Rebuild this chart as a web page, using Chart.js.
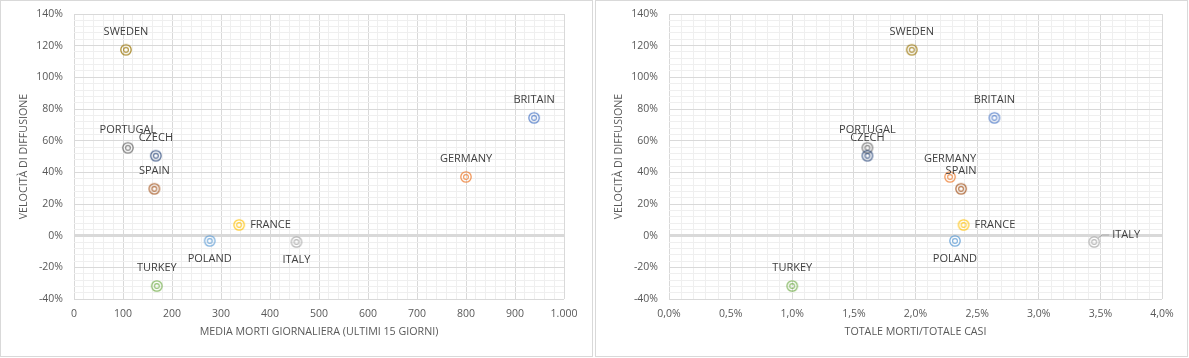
<!DOCTYPE html>
<html>
<head>
<meta charset="utf-8">
<script src="https://cdn.jsdelivr.net/npm/chart.js@4/dist/chart.umd.min.js"></script>
<style>
  body { margin: 0; background: #fff; }
  .box { position: absolute; top: 0; width: 591px; height: 355px; border: 1px solid #d9d9d9; background: #fff; }
</style>
</head>
<body>
<div class="box" style="left:0"><canvas id="chartDeaths"></canvas></div>
<div class="box" style="left:595px"><canvas id="chartRate"></canvas></div>
<script>
// data
const countries = ['BRITAIN', 'GERMANY', 'ITALY', 'FRANCE', 'POLAND', 'TURKEY', 'CZECH', 'SPAIN', 'PORTUGAL', 'SWEDEN'];
const diffusion = [74.4, 37.1, -4.0, 6.8, -3.3, -31.8, 50.5, 29.6, 55.5, 117.4];   // velocità di diffusione, %
const avgDeaths = [939, 800, 454, 337, 277, 169, 167, 164, 110, 106];             // media morti giornaliera
const deathRate = [2.64, 2.28, 3.45, 2.39, 2.32, 1.00, 1.61, 2.37, 1.61, 1.97];   // totale morti / totale casi, %
const colors = ['#4472C4', '#ED7D31', '#A5A5A5', '#FFC000', '#5B9BD5', '#70AD47', '#264478', '#9E480E', '#636363', '#997300'];

const yTitle = 'VELOCITÀ DI DIFFUSIONE';
const xTitleDeaths = 'MEDIA MORTI GIORNALIERA (ULTIMI 15 GIORNI)';
const xTitleRate = 'TOTALE MORTI/TOTALE CASI';

// where each label sits relative to its marker
const labelsDeaths = {
    FRANCE: { pos: 'right' }, POLAND: { pos: 'below' }, ITALY: { pos: 'below' }
};
const labelsRate = {
    FRANCE: { pos: 'right' }, POLAND: { pos: 'below' }, ITALY: { pos: 'right', dx: 18, dy: -7, leader: true }
};

const FONT = "'Open Sans', 'DejaVu Sans', sans-serif";

function bullseye(color) {
    const c = document.createElement('canvas');
    c.width = c.height = 14;
    const g = c.getContext('2d');
    g.strokeStyle = color;
    g.globalAlpha = 0.8;
    g.lineWidth = 1.3;
    g.beginPath(); g.arc(7, 7, 5.2, 0, Math.PI * 2); g.stroke();
    g.lineWidth = 1.1;
    g.beginPath(); g.arc(7, 7, 2.4, 0, Math.PI * 2); g.stroke();
    return c;
}

const pointLabels = {
    id: 'pointLabels',
    afterDatasetsDraw(chart, args, opts) {
        const ctx = chart.ctx;
        const place = opts.place || {};
        ctx.save();
        ctx.font = '11px ' + FONT;
        ctx.fillStyle = '#404040';
        chart.data.datasets.forEach((ds, i) => {
            const el = chart.getDatasetMeta(i).data[0];
            const p = place[ds.label] || { pos: 'above' };
            let x = el.x, y = el.y;
            ctx.textBaseline = 'middle';
            if (p.pos === 'right') {
                ctx.textAlign = 'left';
                x += p.dx || 11;
                y += p.dy || 0;
                if (p.leader) {
                    ctx.strokeStyle = '#a6a6a6';
                    ctx.lineWidth = 1;
                    ctx.beginPath();
                    ctx.moveTo(el.x + 4, el.y - 4);
                    ctx.lineTo(el.x + 8, y);
                    ctx.lineTo(x - 3, y);
                    ctx.stroke();
                }
            } else if (p.pos === 'below') {
                ctx.textAlign = 'center';
                y += 18;
            } else {
                ctx.textAlign = 'center';
                y -= 18;
            }
            ctx.fillText(ds.label, x, y);
        });
        ctx.restore();
    }
};

function makeChart(id, xs, xOpts, xTitle, place) {
    const datasets = countries.map((name, i) => ({
        label: name,
        data: [{ x: xs[i], y: diffusion[i] }],
        pointStyle: bullseye(colors[i]),
        pointRadius: 6
    }));
    return new Chart(document.getElementById(id), {
        type: 'scatter',
        data: { datasets: datasets },
        plugins: [pointLabels],
        options: {
            responsive: true,
            maintainAspectRatio: false,
            animation: false,
            layout: { padding: { left: 13, top: 13, right: xOpts.right, bottom: 14 } },
            plugins: {
                legend: { display: false },
                tooltip: { enabled: false },
                pointLabels: { place: place }
            },
            scales: {
                x: {
                    min: xOpts.min,
                    max: xOpts.max,
                    border: { display: false },
                    grid: {
                        drawTicks: false,
                        color: c => xOpts.isMajor(c.tick.value) ? '#d9d9d9' : '#efefef'
                    },
                    ticks: {
                        stepSize: xOpts.step,
                        autoSkip: false,
                        maxRotation: 0,
                        padding: 9,
                        color: '#595959',
                        font: { family: FONT, size: 10.5 },
                        callback: v => xOpts.isMajor(v) ? xOpts.format(v) : ''
                    },
                    title: {
                        display: true,
                        text: xTitle,
                        color: '#595959',
                        font: { family: FONT, size: 10.7 }
                    },
                    afterFit: s => { s.height = 43; }
                },
                y: {
                    min: -40,
                    max: 140,
                    border: { display: false },
                    grid: {
                        drawTicks: false,
                        color: c => Math.abs(c.tick.value % 20) < 1e-6 ? '#d9d9d9' : '#efefef',
                        lineWidth: c => Math.abs(c.tick.value) < 1e-6 ? 3 : 1
                    },
                    ticks: {
                        stepSize: 4,
                        autoSkip: false,
                        padding: 11,
                        color: '#595959',
                        font: { family: FONT, size: 10.5 },
                        callback: v => Math.abs(v % 20) < 1e-6 ? Math.round(v) + '%' : ''
                    },
                    title: {
                        display: true,
                        text: yTitle,
                        color: '#595959',
                        font: { family: FONT, size: 10.7 }
                    },
                    afterFit: s => { s.width = 60; s.paddingTop = 0; s.paddingBottom = 0; }
                }
            }
        }
    });
}

makeChart('chartDeaths', avgDeaths, {
    min: 0, max: 1000, step: 20, right: 28,
    isMajor: v => Math.abs(v % 100) < 1e-6,
    format: v => v >= 1000 ? '1.000' : String(Math.round(v))
}, xTitleDeaths, labelsDeaths);

makeChart('chartRate', deathRate, {
    min: 0, max: 4, step: 0.1, right: 25,
    isMajor: v => Math.abs(v * 2 - Math.round(v * 2)) < 1e-6,
    format: v => v.toFixed(1).replace('.', ',') + '%'
}, xTitleRate, labelsRate);
</script>
</body>
</html>
